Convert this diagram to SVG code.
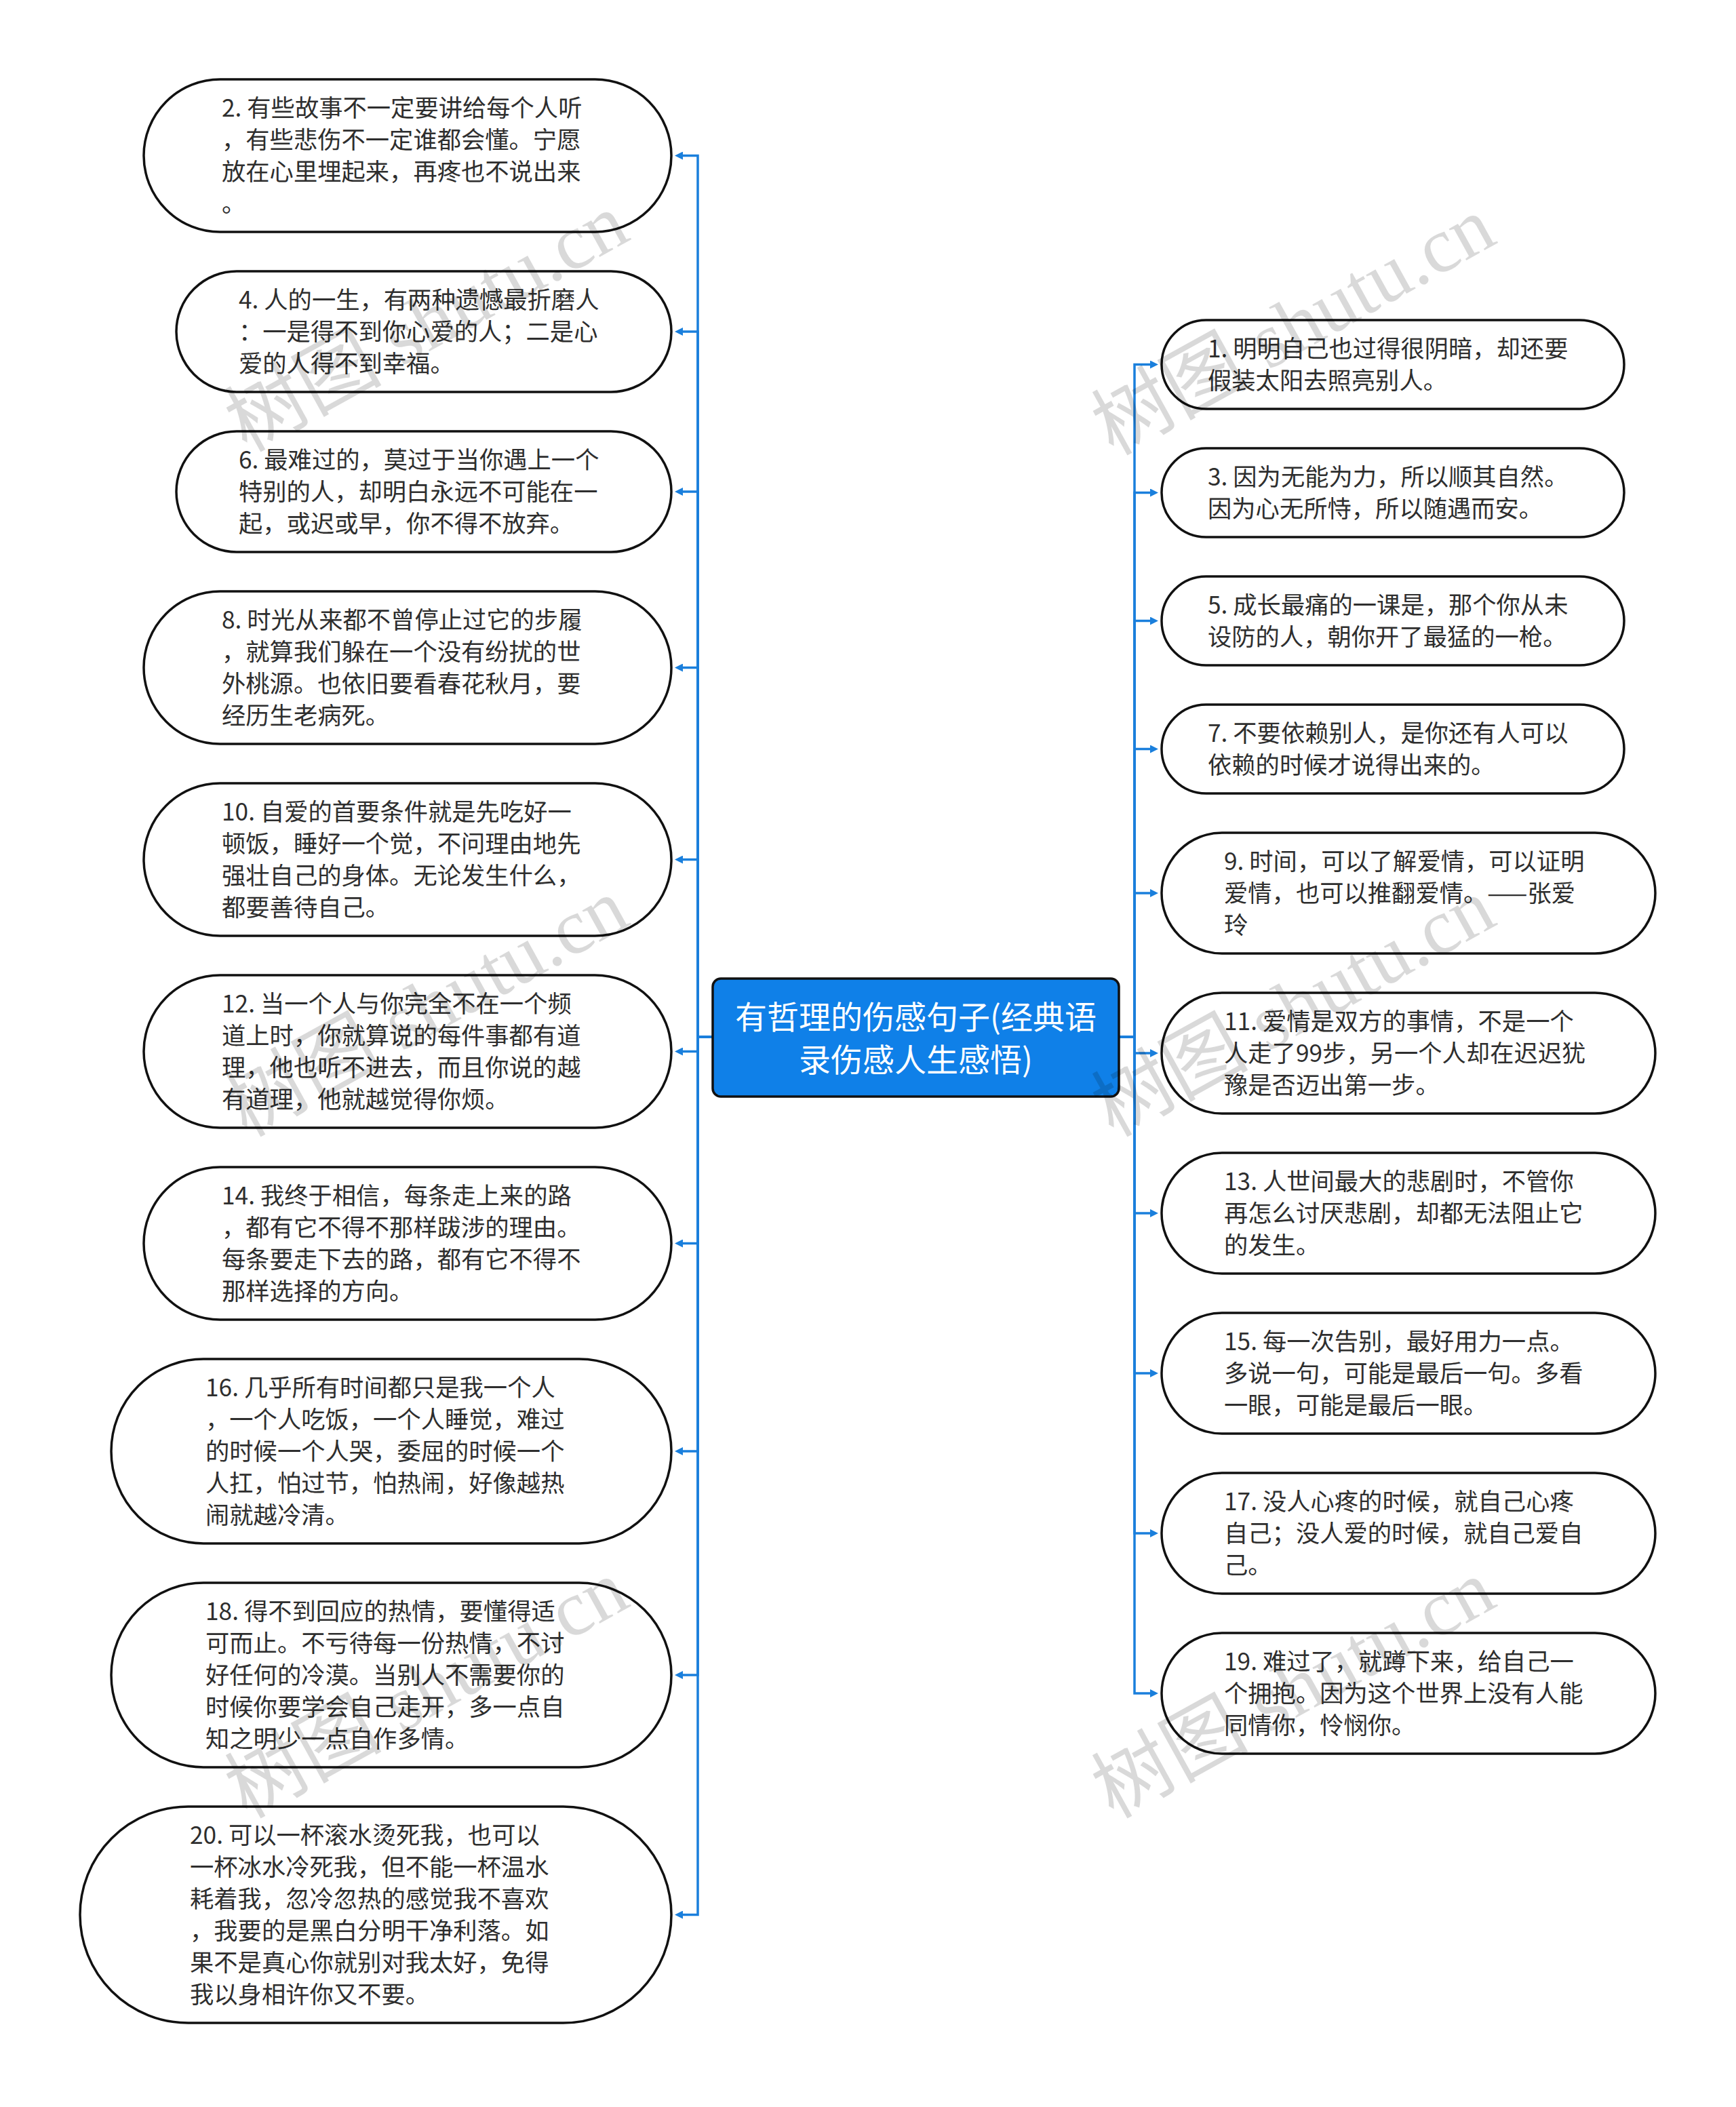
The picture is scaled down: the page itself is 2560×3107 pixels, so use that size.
<svg xmlns="http://www.w3.org/2000/svg" width="2560" height="3107" viewBox="0 0 2560 3107">
<style>
.node{fill:#ffffff;stroke:#111111;stroke-width:3.5}
.t{font-family:"Noto Sans CJK SC","Noto Sans",sans-serif;font-size:35.3px;fill:#2e2e2e}
.root{fill:#0f80e8;stroke:#111111;stroke-width:3.5}
.rt{font-family:"Noto Sans CJK SC","Noto Sans",sans-serif;font-size:47px;fill:#ffffff;text-anchor:middle}
.c{fill:none;stroke:#1a7fdc;stroke-width:3.5;marker-end:url(#ah)}
.wm{font-family:"Liberation Serif","Noto Sans CJK SC",serif;font-size:116px;fill:#000000;fill-opacity:0.15;text-anchor:middle}
</style>
<defs>
<marker id="ah" markerUnits="userSpaceOnUse" markerWidth="12" markerHeight="12" refX="6" refY="6" orient="auto">
<path d="M0,0 L12,6 L0,12 z" fill="#1a7fdc"/>
</marker>
</defs>
<rect width="2560" height="3107" fill="#ffffff"/>
<g id="connectors">
<path class="c" d="M1051 1529 H1029 V229.5 H1001"/>
<path class="c" d="M1051 1529 H1029 V489 H1001"/>
<path class="c" d="M1051 1529 H1029 V725 H1001"/>
<path class="c" d="M1051 1529 H1029 V984.5 H1001"/>
<path class="c" d="M1051 1529 H1029 V1267.5 H1001"/>
<path class="c" d="M1051 1529 H1029 V1550.5 H1001"/>
<path class="c" d="M1051 1529 H1029 V1833.5 H1001"/>
<path class="c" d="M1051 1529 H1029 V2140 H1001"/>
<path class="c" d="M1051 1529 H1029 V2470 H1001"/>
<path class="c" d="M1051 1529 H1029 V2823.5 H1001"/>
<path class="c" d="M1650 1529 H1673 V537.5 H1702"/>
<path class="c" d="M1650 1529 H1673 V726.5 H1702"/>
<path class="c" d="M1650 1529 H1673 V915.5 H1702"/>
<path class="c" d="M1650 1529 H1673 V1104.5 H1702"/>
<path class="c" d="M1650 1529 H1673 V1317 H1702"/>
<path class="c" d="M1650 1529 H1673 V1553 H1702"/>
<path class="c" d="M1650 1529 H1673 V1789 H1702"/>
<path class="c" d="M1650 1529 H1673 V2025 H1702"/>
<path class="c" d="M1650 1529 H1673 V2261 H1702"/>
<path class="c" d="M1650 1529 H1673 V2497 H1702"/>
</g>
<g id="root">
<rect class="root" x="1051" y="1443" width="599" height="174" rx="12"/>
<text class="rt" x="1350.5" y="1517">有哲理的伤感句子(经典语</text>
<text class="rt" x="1350.5" y="1580">录伤感人生感悟)</text>
</g>
<g id="n2">
<rect class="node" x="212" y="117" width="778" height="225" rx="112.5"/>
<text class="t" x="327" y="172">2. 有些故事不一定要讲给每个人听</text>
<text class="t" x="327" y="219">，有些悲伤不一定谁都会懂。宁愿</text>
<text class="t" x="327" y="266">放在心里埋起来，再疼也不说出来</text>
<text class="t" x="327" y="313">。</text>
</g>
<g id="n4">
<rect class="node" x="260" y="400" width="730" height="178" rx="89"/>
<text class="t" x="352" y="455">4. 人的一生，有两种遗憾最折磨人</text>
<text class="t" x="352" y="502">：一是得不到你心爱的人；二是心</text>
<text class="t" x="352" y="549">爱的人得不到幸福。</text>
</g>
<g id="n6">
<rect class="node" x="260" y="636" width="730" height="178" rx="89"/>
<text class="t" x="352" y="691">6. 最难过的，莫过于当你遇上一个</text>
<text class="t" x="352" y="738">特别的人，却明白永远不可能在一</text>
<text class="t" x="352" y="785">起，或迟或早，你不得不放弃。</text>
</g>
<g id="n8">
<rect class="node" x="212" y="872" width="778" height="225" rx="112.5"/>
<text class="t" x="327" y="927">8. 时光从来都不曾停止过它的步履</text>
<text class="t" x="327" y="974">，就算我们躲在一个没有纷扰的世</text>
<text class="t" x="327" y="1021">外桃源。也依旧要看春花秋月，要</text>
<text class="t" x="327" y="1068">经历生老病死。</text>
</g>
<g id="n10">
<rect class="node" x="212" y="1155" width="778" height="225" rx="112.5"/>
<text class="t" x="327" y="1210">10. 自爱的首要条件就是先吃好一</text>
<text class="t" x="327" y="1257">顿饭，睡好一个觉，不问理由地先</text>
<text class="t" x="327" y="1304">强壮自己的身体。无论发生什么，</text>
<text class="t" x="327" y="1351">都要善待自己。</text>
</g>
<g id="n12">
<rect class="node" x="212" y="1438" width="778" height="225" rx="112.5"/>
<text class="t" x="327" y="1493">12. 当一个人与你完全不在一个频</text>
<text class="t" x="327" y="1540">道上时，你就算说的每件事都有道</text>
<text class="t" x="327" y="1587">理，他也听不进去，而且你说的越</text>
<text class="t" x="327" y="1634">有道理，他就越觉得你烦。</text>
</g>
<g id="n14">
<rect class="node" x="212" y="1721" width="778" height="225" rx="112.5"/>
<text class="t" x="327" y="1776">14. 我终于相信，每条走上来的路</text>
<text class="t" x="327" y="1823">，都有它不得不那样跋涉的理由。</text>
<text class="t" x="327" y="1870">每条要走下去的路，都有它不得不</text>
<text class="t" x="327" y="1917">那样选择的方向。</text>
</g>
<g id="n16">
<rect class="node" x="164" y="2004" width="826" height="272" rx="136"/>
<text class="t" x="303" y="2059">16. 几乎所有时间都只是我一个人</text>
<text class="t" x="303" y="2106">，一个人吃饭，一个人睡觉，难过</text>
<text class="t" x="303" y="2153">的时候一个人哭，委屈的时候一个</text>
<text class="t" x="303" y="2200">人扛，怕过节，怕热闹，好像越热</text>
<text class="t" x="303" y="2247">闹就越冷清。</text>
</g>
<g id="n18">
<rect class="node" x="164" y="2334" width="826" height="272" rx="136"/>
<text class="t" x="303" y="2389">18. 得不到回应的热情，要懂得适</text>
<text class="t" x="303" y="2436">可而止。不亏待每一份热情，不讨</text>
<text class="t" x="303" y="2483">好任何的冷漠。当别人不需要你的</text>
<text class="t" x="303" y="2530">时候你要学会自己走开，多一点自</text>
<text class="t" x="303" y="2577">知之明少一点自作多情。</text>
</g>
<g id="n20">
<rect class="node" x="118" y="2664" width="872" height="319" rx="159.5"/>
<text class="t" x="280" y="2719">20. 可以一杯滚水烫死我，也可以</text>
<text class="t" x="280" y="2766">一杯冰水冷死我，但不能一杯温水</text>
<text class="t" x="280" y="2813">耗着我，忽冷忽热的感觉我不喜欢</text>
<text class="t" x="280" y="2860">，我要的是黑白分明干净利落。如</text>
<text class="t" x="280" y="2907">果不是真心你就别对我太好，免得</text>
<text class="t" x="280" y="2954">我以身相许你又不要。</text>
</g>
<g id="n1">
<rect class="node" x="1713" y="472" width="682" height="131" rx="65.5"/>
<text class="t" x="1781" y="527">1. 明明自己也过得很阴暗，却还要</text>
<text class="t" x="1781" y="574">假装太阳去照亮别人。</text>
</g>
<g id="n3">
<rect class="node" x="1713" y="661" width="682" height="131" rx="65.5"/>
<text class="t" x="1781" y="716">3. 因为无能为力，所以顺其自然。</text>
<text class="t" x="1781" y="763">因为心无所恃，所以随遇而安。</text>
</g>
<g id="n5">
<rect class="node" x="1713" y="850" width="682" height="131" rx="65.5"/>
<text class="t" x="1781" y="905">5. 成长最痛的一课是，那个你从未</text>
<text class="t" x="1781" y="952">设防的人，朝你开了最猛的一枪。</text>
</g>
<g id="n7">
<rect class="node" x="1713" y="1039" width="682" height="131" rx="65.5"/>
<text class="t" x="1781" y="1094">7. 不要依赖别人，是你还有人可以</text>
<text class="t" x="1781" y="1141">依赖的时候才说得出来的。</text>
</g>
<g id="n9">
<rect class="node" x="1713" y="1228" width="728" height="178" rx="89"/>
<text class="t" x="1805" y="1283">9. 时间，可以了解爱情，可以证明</text>
<text class="t" x="1805" y="1330">爱情，也可以推翻爱情。——张爱</text>
<text class="t" x="1805" y="1377">玲</text>
</g>
<g id="n11">
<rect class="node" x="1713" y="1464" width="728" height="178" rx="89"/>
<text class="t" x="1805" y="1519">11. 爱情是双方的事情，不是一个</text>
<text class="t" x="1805" y="1566">人走了99步，另一个人却在迟迟犹</text>
<text class="t" x="1805" y="1613">豫是否迈出第一步。</text>
</g>
<g id="n13">
<rect class="node" x="1713" y="1700" width="728" height="178" rx="89"/>
<text class="t" x="1805" y="1755">13. 人世间最大的悲剧时，不管你</text>
<text class="t" x="1805" y="1802">再怎么讨厌悲剧，却都无法阻止它</text>
<text class="t" x="1805" y="1849">的发生。</text>
</g>
<g id="n15">
<rect class="node" x="1713" y="1936" width="728" height="178" rx="89"/>
<text class="t" x="1805" y="1991">15. 每一次告别，最好用力一点。</text>
<text class="t" x="1805" y="2038">多说一句，可能是最后一句。多看</text>
<text class="t" x="1805" y="2085">一眼，可能是最后一眼。</text>
</g>
<g id="n17">
<rect class="node" x="1713" y="2172" width="728" height="178" rx="89"/>
<text class="t" x="1805" y="2227">17. 没人心疼的时候，就自己心疼</text>
<text class="t" x="1805" y="2274">自己；没人爱的时候，就自己爱自</text>
<text class="t" x="1805" y="2321">己。</text>
</g>
<g id="n19">
<rect class="node" x="1713" y="2408" width="728" height="178" rx="89"/>
<text class="t" x="1805" y="2463">19. 难过了，就蹲下来，给自己一</text>
<text class="t" x="1805" y="2510">个拥抱。因为这个世界上没有人能</text>
<text class="t" x="1805" y="2557">同情你，怜悯你。</text>
</g>
<g id="watermarks">
<text class="wm" transform="translate(648 510) rotate(-29)">树图 shutu.cn</text>
<text class="wm" transform="translate(1926 515) rotate(-29)">树图 shutu.cn</text>
<text class="wm" transform="translate(648 1520) rotate(-29)">树图 shutu.cn</text>
<text class="wm" transform="translate(1926 1520) rotate(-29)">树图 shutu.cn</text>
<text class="wm" transform="translate(648 2525) rotate(-29)">树图 shutu.cn</text>
<text class="wm" transform="translate(1926 2525) rotate(-29)">树图 shutu.cn</text>
</g>
</svg>
